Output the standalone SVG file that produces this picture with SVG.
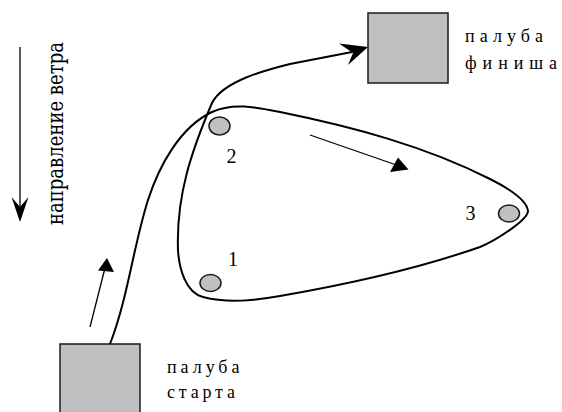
<svg xmlns="http://www.w3.org/2000/svg" width="562" height="412" viewBox="0 0 562 412">
<style>
.box{fill:#c0c0c0;stroke:#1a1a1a;stroke-width:1.5}
.buoy{fill:#c0c0c0;stroke:#1a1a1a;stroke-width:1.5}
.route{fill:none;stroke:#000;stroke-width:2}
.thin{fill:none;stroke:#000;stroke-width:1.3}
.head{fill:#000;stroke:none}
.lbl{font-size:18px}
.num{font-size:20px;text-anchor:middle}
.wind{font-size:22px}
</style>
<rect width="562" height="412" fill="#fff"/>
<g id="wind">
<line class="thin" x1="20" y1="47" x2="20" y2="208"/>
<polygon class="head" points="20,222 11.5,197 20,207 28.5,197"/>
<text class="wind" font-family="DejaVu Serif, serif" transform="translate(63,225) rotate(-90)" textLength="183" lengthAdjust="spacingAndGlyphs">направление ветра</text>
</g>
<g id="finish">
<rect class="box" x="368" y="13" width="80" height="70"/>
<text class="lbl" font-family="Liberation Serif, serif" x="465" y="42" textLength="78" lengthAdjust="spacing">палуба</text>
<text class="lbl" font-family="Liberation Serif, serif" x="465" y="69" textLength="92" lengthAdjust="spacing">финиша</text>
</g>
<g id="start">
<rect class="box" x="60" y="344" width="80" height="80"/>
<text class="lbl" font-family="Liberation Serif, serif" x="167" y="373" textLength="72.5" lengthAdjust="spacing">палуба</text>
<text class="lbl" font-family="Liberation Serif, serif" x="167" y="398" textLength="68" lengthAdjust="spacing">старта</text>
</g>
<g id="buoy1">
<ellipse class="buoy" cx="210.5" cy="283" rx="10.5" ry="8.5"/>
<text class="num" font-family="Liberation Serif, serif" x="233" y="265.5">1</text>
</g>
<g id="buoy2">
<ellipse class="buoy" cx="219.5" cy="126" rx="10.5" ry="9"/>
<text class="num" font-family="Liberation Serif, serif" x="231.5" y="163">2</text>
</g>
<g id="buoy3">
<ellipse class="buoy" cx="509" cy="213.5" rx="10.5" ry="8.5"/>
<text class="num" font-family="Liberation Serif, serif" x="470.5" y="220">3</text>
</g>
<g id="connectors">
<path class="route" d="M110,344 C128,297.5 133,247.5 148,200 C159,166 180,127 212,112 C233,102 257.5,107.5 280,112 C352,126.6 425,146 490,179 C508,188 527,200 528,211 C528,220 495,241 480,247 C420,268 346,284.6 280,296 C254,300.5 228,303.5 203,297 C185.5,292.5 179,268 178,250 C176,195 192,150 212,103 C223,81 266,70 290,64 L352,52"/>
<polygon class="head" points="368,47 339,43.5 353,53 348,65"/>
<line class="thin" x1="310" y1="135" x2="395" y2="164.5"/>
<polygon class="head" points="408.5,169.5 398,157.5 390,172"/>
<line class="thin" x1="90" y1="327" x2="105" y2="268"/>
<polygon class="head" points="107,258 98,270.5 114,272"/>
</g>
</svg>
